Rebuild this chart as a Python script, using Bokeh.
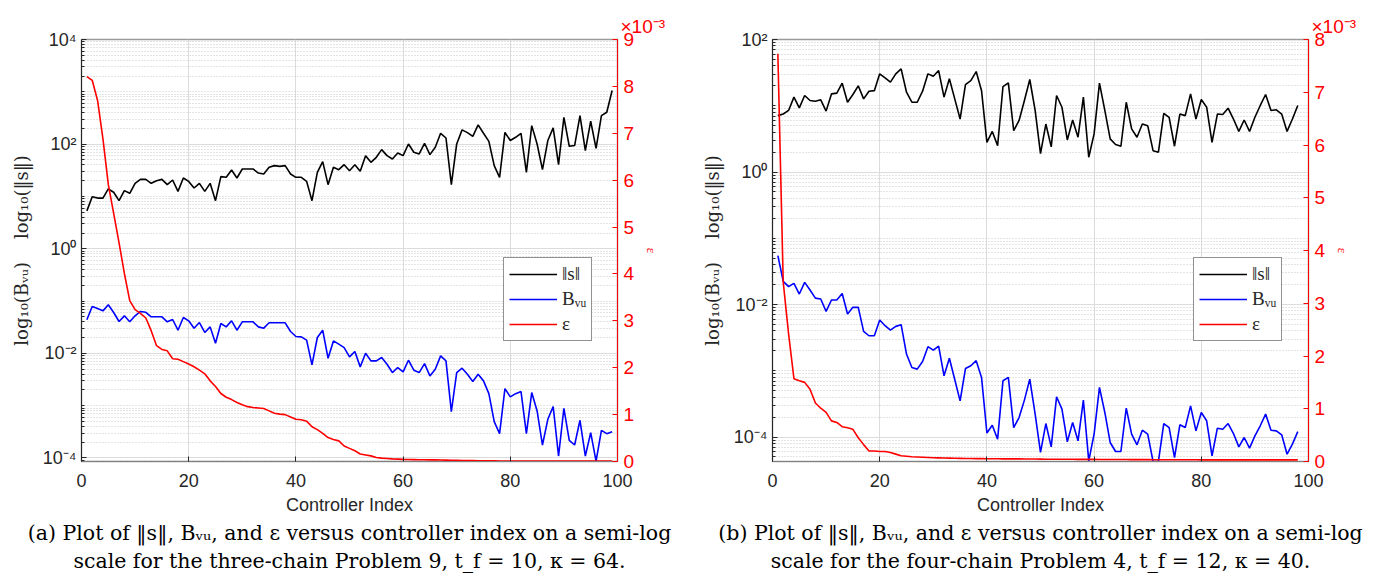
from bokeh.plotting import figure
from bokeh.models import Range1d, LinearAxis, FixedTicker, Legend, LegendItem, Title, LinearScale
from bokeh.layouts import row
from bokeh.embed import file_html
from bokeh.resources import INLINE

# ---------------- data: panel (a) three-chain Problem 9 ----------------
s_norm_a = [5.3, 9.9, 9.3, 9.3, 13.9, 12.0, 8.3, 12.9, 11.5, 17.8,
            21.2, 21.2, 17.8, 20.0, 21.2, 16.8, 20.6, 12.5, 22.5, 19.4,
            14.5, 17.8, 12.5, 17.8, 8.3, 23.9, 23.2, 32.0, 22.5, 33.5,
            33.5, 33.5, 28.0, 26.9, 36.0, 38.8, 37.6, 38.8, 26.9, 23.2,
            23.2, 19.4, 8.3, 28.9, 46.3, 16.8, 36.0, 32.5, 40.5, 31.1,
            40.5, 30.2, 60.2, 44.9, 56.0, 78.5, 60.2, 52.0, 67.8, 60.2,
            100.7, 69.8, 64.8, 103.8, 63.0, 87.0, 161.0, 131.0, 16.8, 100.7,
            187.0, 166.0, 141.0, 233.0, 161.0, 113.0, 38.8, 23.2, 168.0, 117.0,
            135.0, 161.0, 28.9, 226.0, 100.7, 32.5, 117.0, 204.0, 40.5, 326.0,
            91.0, 94.0, 351.0, 75.0, 274.0, 83.0, 351.0, 407.0, 1057.0]
bvu_a = [0.0438, 0.0787, 0.0721, 0.0650, 0.0848, 0.0604, 0.0407, 0.0522, 0.0401, 0.0522,
         0.0632, 0.0610, 0.0500, 0.0500, 0.0500, 0.0401, 0.0444, 0.0277, 0.0485, 0.0419,
         0.0303, 0.0389, 0.0251, 0.0321, 0.0156, 0.0372, 0.0321, 0.0419, 0.0277, 0.0401,
         0.0401, 0.0401, 0.0321, 0.0303, 0.0384, 0.0384, 0.0384, 0.0384, 0.0262, 0.0210,
         0.0207, 0.0179, 0.00603, 0.0201, 0.0277, 0.00807, 0.0173, 0.0150, 0.0129, 0.00857,
         0.01084, 0.00552, 0.01007, 0.00718, 0.00718, 0.00832, 0.00621, 0.00430, 0.00536, 0.00443,
         0.00740, 0.00477, 0.00430, 0.00638, 0.00371, 0.00498, 0.00896, 0.00718, 0.000771, 0.00430,
         0.00520, 0.00399, 0.00289, 0.00399, 0.00298, 0.00170, 0.000495, 0.000292, 0.00212, 0.00147,
         0.00170, 0.00186, 0.000292, 0.00178, 0.000793, 0.000177, 0.000549, 0.000960, 0.000109, 0.000892,
         0.000218, 0.000177, 0.000526, 0.000109, 0.000305, 0.0000875, 0.000338, 0.000292, 0.000319]
eps_a = [8.21, 8.13, 7.70, 6.88, 5.91, 5.29, 4.67, 4.01, 3.43, 3.24,
         3.16, 3.06, 2.79, 2.47, 2.39, 2.36, 2.19, 2.18, 2.13, 2.08,
         2.02, 1.95, 1.87, 1.72, 1.60, 1.45, 1.37, 1.32, 1.26, 1.21,
         1.17, 1.15, 1.14, 1.13, 1.08, 1.03, 1.01, 1.00, 0.95, 0.90,
         0.89, 0.86, 0.74, 0.68, 0.60, 0.51, 0.47, 0.44, 0.33, 0.28,
         0.23, 0.16, 0.14, 0.12, 0.085, 0.072, 0.065, 0.055, 0.050, 0.045,
         0.042, 0.040, 0.038, 0.036, 0.035, 0.034, 0.032, 0.030, 0.028, 0.025,
         0.022, 0.020, 0.018, 0.016, 0.015, 0.014, 0.013, 0.012, 0.011, 0.010,
         0.010, 0.010, 0.010, 0.010, 0.010, 0.010, 0.010, 0.010, 0.010, 0.010,
         0.010, 0.010, 0.010, 0.010, 0.010, 0.010, 0.010, 0.010, 0.010]   # x 1e-3

# ---------------- data: panel (b) four-chain Problem 4 ----------------
s_norm_b = [7.1, 7.5, 8.5, 13.5, 9.3, 14.3, 12.0, 11.7, 12.3, 8.3,
            15.1, 15.5, 21.9, 11.3, 14.8, 20.0, 12.7, 16.6, 16.9, 30.3,
            26.4, 22.7, 30.3, 36.1, 16.0, 11.3, 11.3, 16.6, 30.3, 27.9,
            34.0, 13.5, 25.5, 12.7, 6.3, 20.9, 24.0, 32.8, 16.9, 2.8,
            4.1, 2.5, 19.5, 22.1, 4.2, 6.0, 12.0, 24.9, 8.5, 1.9,
            5.3, 2.4, 14.3, 9.5, 3.05, 6.1, 3.35, 13.5, 1.67, 3.76,
            21.9, 8.5, 3.16, 2.6, 2.45, 11.3, 4.47, 3.35, 5.3, 5.0,
            2.1, 1.99, 7.7, 6.7, 2.45, 7.5, 7.1, 15.1, 6.3, 12.4,
            9.5, 2.8, 7.5, 7.4, 9.2, 6.3, 4.1, 6.1, 4.1, 6.7,
            10.1, 14.8, 8.5, 8.7, 7.5, 4.1, 6.3, 10.1]
bvu_b = [0.0546, 0.0224, 0.0186, 0.0209, 0.0144, 0.0216, 0.0166, 0.0125, 0.0121, 0.00788,
         0.0117, 0.0117, 0.0147, 0.00718, 0.00906, 0.00906, 0.00393, 0.00338, 0.00338, 0.00583,
         0.00479, 0.00412, 0.00468, 0.00496, 0.00179, 0.00112, 0.00106, 0.00138, 0.00231, 0.00205,
         0.00236, 0.000841, 0.00155, 0.000740, 0.000352, 0.00108, 0.00119, 0.00142, 0.000794, 0.000115,
         0.000151, 0.0000929, 0.000707, 0.000794, 0.000139, 0.000197, 0.000361, 0.000749, 0.000222, 0.0000585,
         0.000160, 0.0000711, 0.000405, 0.000264, 0.0000847, 0.000166, 0.0000877, 0.000361, 0.0000437, 0.000111,
         0.000561, 0.000235, 0.0000828, 0.0000605, 0.0000605, 0.000273, 0.000111, 0.0000764, 0.000127, 0.000111,
         0.0000428, 0.0000428, 0.000160, 0.000139, 0.0000491, 0.000153, 0.000139, 0.000296, 0.000124, 0.000235,
         0.000176, 0.0000520, 0.000136, 0.000131, 0.000160, 0.000113, 0.0000711, 0.0000984, 0.0000679, 0.000104,
         0.000148, 0.000222, 0.000127, 0.000124, 0.000108, 0.0000551, 0.0000782, 0.000121]
eps_b = [7.73, 3.40, 2.42, 1.57, 1.53, 1.50, 1.37, 1.11, 1.01, 0.93,
         0.77, 0.74, 0.66, 0.64, 0.61, 0.45, 0.32, 0.20, 0.20, 0.19,
         0.19, 0.17, 0.14, 0.11, 0.10, 0.09, 0.085, 0.080, 0.075, 0.070,
         0.068, 0.066, 0.064, 0.062, 0.060, 0.058, 0.056, 0.055, 0.054, 0.053,
         0.052, 0.051, 0.050, 0.050, 0.050, 0.049, 0.048, 0.047, 0.046, 0.045,
         0.044, 0.044, 0.043, 0.043, 0.042, 0.042, 0.041, 0.041, 0.040, 0.040,
         0.039, 0.039, 0.038, 0.038, 0.037, 0.037, 0.036, 0.036, 0.035, 0.035,
         0.034, 0.034, 0.034, 0.033, 0.033, 0.033, 0.032, 0.032, 0.032, 0.031,
         0.031, 0.031, 0.031, 0.030, 0.030, 0.030, 0.030, 0.030, 0.030, 0.030,
         0.030, 0.030, 0.030, 0.030, 0.030, 0.030, 0.030, 0.030]   # x 1e-3

# ---------------- ticks / labels ----------------
x_ticks = [0, 20, 40, 60, 80, 100]
log_ticks_a = [1e-4, 1e-2, 1.0, 1e2, 1e4]
log_labels_a = ["10⁻⁴", "10⁻²", "10⁰", "10²", "10⁴"]
log_ticks_b = [1e-4, 1e-2, 1.0, 1e2]
log_labels_b = ["10⁻⁴", "10⁻²", "10⁰", "10²"]
eps_ticks_a = [0, 1, 2, 3, 4, 5, 6, 7, 8, 9]
eps_ticks_b = [0, 1, 2, 3, 4, 5, 6, 7, 8]
legend_labels = ["‖s‖", "Bᵥᵤ", "ε"]
y_label = "log₁₀(Bᵥᵤ)\u00a0\u00a0\u00a0\u00a0log₁₀(‖s‖)"
captions_a = ["(a) Plot of ‖s‖, Bᵥᵤ, and ε versus controller index on a semi-log",
              "scale for the three-chain Problem 9, t_f = 10, κ = 64."]
captions_b = ["(b) Plot of ‖s‖, Bᵥᵤ, and ε versus controller index on a semi-log",
              "scale for the four-chain Problem 4, t_f = 12, κ = 40."]

SANS = "Liberation Sans"
SERIF = "Liberation Serif"
WSERIF = "DejaVu Serif"
AX = "#262626"
RED = "#ff0000"


def minor_log(lo_e, hi_e, majors):
    out = []
    for e in range(lo_e, hi_e + 1):
        for m in range(1, 10):
            v = m * 10.0 ** e
            if all(abs(v - t) > 1e-12 * max(t, 1e-12) for t in majors):
                out.append(v)
    return out


def panel(width, bl, br, s, b, e, ylo, yhi, ticks, labels, minor_lo, minor_hi,
          eps_hi, eps_ticks, leg_x, caps):
    height = 576
    p = figure(width=width, height=height, x_range=Range1d(0, 100),
               y_range=Range1d(ylo, yhi), y_axis_type="log",
               output_backend="svg", toolbar_location=None,
               min_border_left=bl, min_border_right=br,
               min_border_top=39, min_border_bottom=115)
    p.background_fill_color = "white"
    p.border_fill_color = "white"
    p.outline_line_color = "#9a9a9a"
    p.outline_line_width = 1.5

    idx = list(range(1, len(s) + 1))

    # y (log) axis
    yt = FixedTicker(ticks=ticks, minor_ticks=minor_log(minor_lo, minor_hi, ticks))
    ya = p.yaxis[0]
    ya.ticker = yt
    ya.major_label_overrides = {t: l for t, l in zip(ticks, labels)}
    ya.major_label_text_font = SANS
    ya.major_label_text_font_size = "18px"
    ya.major_label_text_color = AX
    ya.axis_line_color = AX
    ya.major_tick_line_color = AX
    ya.minor_tick_line_color = AX
    ya.major_tick_in = 5
    ya.major_tick_out = 0
    ya.minor_tick_in = 3
    ya.minor_tick_out = 0
    ya.major_label_standoff = 5
    ya.axis_label = y_label
    ya.axis_label_text_font = WSERIF
    ya.axis_label_text_font_style = "normal"
    ya.axis_label_text_font_size = "18px"
    ya.axis_label_text_color = AX
    ya.axis_label_standoff = 8
    p.ygrid.ticker = yt
    p.ygrid.grid_line_color = "#dcdcdc"
    p.ygrid.minor_grid_line_color = "#c8c8c8"
    p.ygrid.minor_grid_line_dash = "1 2"

    # x axis
    xt = FixedTicker(ticks=x_ticks, minor_ticks=[])
    xa = p.xaxis[0]
    xa.ticker = xt
    xa.major_label_text_font = SANS
    xa.major_label_text_font_size = "18px"
    xa.major_label_text_color = AX
    xa.axis_line_color = "#808080"
    xa.major_tick_line_color = AX
    xa.major_tick_in = 5
    xa.major_tick_out = 0
    xa.minor_tick_line_color = None
    xa.major_label_standoff = 12
    xa.axis_label = "Controller Index"
    xa.axis_label_text_font = SANS
    xa.axis_label_text_font_style = "normal"
    xa.axis_label_text_font_size = "18px"
    xa.axis_label_text_color = AX
    xa.axis_label_standoff = 5
    p.xgrid.ticker = xt
    p.xgrid.grid_line_color = "#dcdcdc"

    # right epsilon axis (linear, x 1e-3)
    p.extra_y_ranges = {"eps": Range1d(0, eps_hi)}
    p.extra_y_scales = {"eps": LinearScale()}
    ra = LinearAxis(y_range_name="eps", ticker=FixedTicker(ticks=eps_ticks, minor_ticks=[]))
    ra.axis_line_color = RED
    ra.major_tick_line_color = RED
    ra.major_tick_in = 5
    ra.major_tick_out = 0
    ra.minor_tick_line_color = None
    ra.major_label_text_color = RED
    ra.major_label_text_font = SANS
    ra.major_label_text_font_size = "19px"
    ra.major_label_standoff = 6
    ra.axis_label = "ε"
    ra.axis_label_text_color = RED
    ra.axis_label_text_font = SERIF
    ra.axis_label_text_font_style = "normal"
    ra.axis_label_text_font_size = "13px"
    ra.axis_label_standoff = 7
    p.add_layout(ra, "right")

    r1 = p.line(idx, s, line_color="black", line_width=1.6)
    r2 = p.line(idx, b, line_color="#0000ff", line_width=1.6)
    r3 = p.line(idx, e, line_color=RED, line_width=1.6, y_range_name="eps")

    leg = Legend(items=[LegendItem(label=legend_labels[0], renderers=[r1]),
                        LegendItem(label=legend_labels[1], renderers=[r2]),
                        LegendItem(label=legend_labels[2], renderers=[r3])],
                 location=(leg_x, 120))
    leg.label_text_font = SERIF
    leg.label_text_font_size = "19px"
    leg.label_text_color = AX
    leg.glyph_width = 48
    leg.glyph_height = 20
    leg.label_height = 20
    leg.label_standoff = 5
    leg.spacing = 3
    leg.padding = 5
    leg.margin = 0
    leg.border_line_color = AX
    leg.border_line_width = 1
    leg.background_fill_color = "white"
    leg.background_fill_alpha = 1.0
    p.add_layout(leg)

    fw = width - bl - br
    p.add_layout(Title(text="×10⁻³", align="left", offset=fw + 3,
                       text_color=RED, text_font=SANS, text_font_size="19px",
                       text_font_style="normal", standoff=6), "above")
    for k, cap in enumerate(caps):
        p.add_layout(Title(text=cap, align="center",
                           text_color="black", text_font=WSERIF,
                           text_font_size="20.5px", text_font_style="normal",
                           standoff=3 if k == 0 else 0), "below")
    return p


pa = panel(688, 81, 71, s_norm_a, bvu_a, eps_a, 10 ** -4.067, 1e4,
           log_ticks_a, log_labels_a, -5, 3, 9, eps_ticks_a, 422, captions_a)
pb = panel(687, 84, 67, s_norm_b, bvu_b, eps_b, 10 ** -4.369, 1e2,
           log_ticks_b, log_labels_b, -5, 1, 8, eps_ticks_b, 421, captions_b)

layout = row(pa, pb)
open("out.html", "w").write(file_html(layout, INLINE))
